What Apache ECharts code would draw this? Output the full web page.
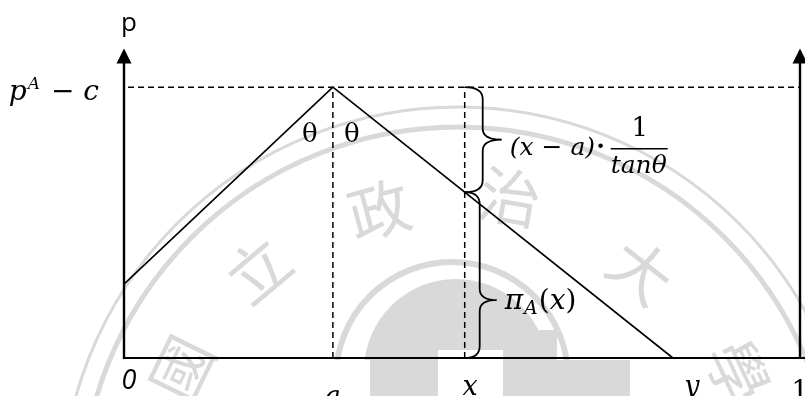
<!DOCTYPE html>
<html>
<head>
<meta charset="utf-8">
<script src="https://cdn.jsdelivr.net/npm/echarts@6/dist/echarts.min.js"></script>
<style>
  html, body { margin: 0; padding: 0; background: #ffffff; }
  #chart { width: 805px; height: 396px; }
</style>
</head>
<body>
<div id="chart"></div>
<script>
// Locations on the unit line and the profit level of firm A
const tickNames = ['0', 'a', 'x', 'y', '1'];
const tickValues = [0, 0.309, 0.504, 0.812, 1];
const levelNames = ['pA-c'];
const levelValues = [1];

// Profit of A along the line: rises to the peak at a, falls to zero at y
const profitLine = [[0, 0.273], [0.309, 1], [0.812, 0]];
// Dashed guides
const peakGuide = [[0.006, 1], [1, 1]];
const guideA = [[0.309, 0], [0.309, 1]];
const guideX = [[0.504, 0], [0.504, 1]];
// Braces at x: [position, lower value, upper value, tip value]
const braceRanges = [[0.504, 0.612, 1, 0.806], [0.504, 0, 0.612, 0.214]];
// Peak where the two angles are marked
const peakPoint = [[0.309, 1]];

const yTop = 1.115;
const xRight = 1.0074;

const MATH = "'DejaVu Serif', serif";
const SEAL = '#d9d9d9';

const chart = echarts.init(document.getElementById('chart'), null, { renderer: 'canvas' });

function quad(p0, c, p1, n, out) {
  for (let i = 1; i <= n; i++) {
    const t = i / n, u = 1 - t;
    out.push([u * u * p0[0] + 2 * u * t * c[0] + t * t * p1[0],
              u * u * p0[1] + 2 * u * t * c[1] + t * t * p1[1]]);
  }
}

function bracePoints(x0, yt, yb, ym, s, t) {
  const r = 12, m = 11;
  const xs = x0 + s, xt = x0 + t;
  const pts = [[x0, yt]];
  quad([x0, yt], [xs, yt], [xs, yt + r], 8, pts);
  pts.push([xs, ym - m]);
  quad([xs, ym - m], [xs, ym], [xt, ym], 8, pts);
  quad([xt, ym], [xs, ym], [xs, ym + m], 8, pts);
  pts.push([xs, yb - r]);
  quad([xs, yb - r], [xs, yb], [x0, yb], 8, pts);
  return pts;
}

function txt(x, y, text, font, align, extra) {
  return {
    type: 'text',
    x: x, y: y,
    style: Object.assign({
      text: text, font: font, fill: '#000',
      align: align || 'center', textAlign: align || 'center',
      verticalAlign: 'middle', textVerticalAlign: 'middle'
    }, extra || {})
  };
}

// Faint university seal behind the diagram
const sealChars = [
  { ch: '國', x: 182, y: 368, a: -64 },
  { ch: '立', x: 258, y: 270, a: -40 },
  { ch: '政', x: 379, y: 210, a: -15 },
  { ch: '治', x: 510, y: 197, a: 10 },
  { ch: '大', x: 641, y: 271, a: 38 },
  { ch: '學', x: 738, y: 372, a: 65 }
];
const graphicEls = [
  { type: 'circle', z: -10, silent: true, shape: { cx: 458, cy: 504, r: 397 }, style: { fill: 'none', stroke: SEAL, lineWidth: 3 } },
  { type: 'circle', z: -10, silent: true, shape: { cx: 458, cy: 504, r: 377 }, style: { fill: 'none', stroke: SEAL, lineWidth: 5 } },
  { type: 'circle', z: -10, silent: true, shape: { cx: 456, cy: 371, r: 92 }, style: { fill: SEAL } },
  { type: 'circle', z: -10, silent: true, shape: { cx: 452, cy: 378, r: 116 }, style: { fill: 'none', stroke: SEAL, lineWidth: 6 } },
  { type: 'rect', z: -10, silent: true, shape: { x: 490, y: 330, width: 67, height: 30 }, style: { fill: SEAL } },
  { type: 'rect', z: -10, silent: true, shape: { x: 503, y: 360, width: 127, height: 36 }, style: { fill: SEAL } },
  // white text boxes under the axis labels
  { type: 'rect', z: -9, silent: true, shape: { x: 303, y: 360, width: 67, height: 36 }, style: { fill: '#fff' } },
  { type: 'rect', z: -9, silent: true, shape: { x: 438, y: 350, width: 65, height: 46 }, style: { fill: '#fff' } }
];
sealChars.forEach(c => {
  graphicEls.push({
    type: 'text', z: -10, silent: true,
    x: c.x, y: c.y, rotation: -c.a * Math.PI / 180,
    style: {
      text: c.ch, font: "62px 'Noto Sans CJK TC'", fill: SEAL,
      align: 'center', textAlign: 'center', verticalAlign: 'middle', textVerticalAlign: 'middle'
    }
  });
});

const option = {
  animation: false,
  backgroundColor: '#ffffff',
  graphic: { elements: graphicEls },
  grid: { left: 124, right: 0, top: 56, bottom: 38, containLabel: false, outerBoundsMode: 'none' },
  xAxis: {
    type: 'value', min: 0, max: xRight,
    axisLine: { show: true, onZero: false, lineStyle: { color: '#000', width: 2.2 } },
    axisTick: { show: false },
    splitLine: { show: false },
    axisLabel: {
      customValues: tickValues,
      margin: 10,
      showMinLabel: true, showMaxLabel: true,
      formatter: v => {
        const i = tickValues.indexOf(v);
        return '{t' + i + '|' + tickNames[i] + '}';
      },
      rich: {
        t0: { fontFamily: "'Open Sans', sans-serif", fontStyle: 'italic', fontSize: 27, color: '#000', padding: [0, 0, 0, 10] },
        t1: { fontFamily: MATH, fontStyle: 'italic', fontSize: 27, color: '#000', padding: [16, 0, 0, 0] },
        t2: { fontFamily: MATH, fontStyle: 'italic', fontSize: 27, color: '#000', padding: [6, 0, 0, 11] },
        t3: { fontFamily: MATH, fontStyle: 'italic', fontSize: 27, color: '#000', padding: [6, 0, 0, 38] },
        t4: { fontFamily: MATH, fontSize: 27, color: '#000', padding: [11, 0, 0, 0] }
      }
    }
  },
  yAxis: {
    type: 'value', min: 0, max: yTop,
    name: 'p', nameLocation: 'end', nameGap: 19,
    nameTextStyle: { fontFamily: "'Open Sans', sans-serif", fontSize: 26, color: '#000', padding: [0, 0, 0, 10] },
    axisLine: { show: true, onZero: false, symbol: ['none', 'triangle'], symbolSize: [15, 15], lineStyle: { color: '#000', width: 2.4 } },
    axisTick: { show: false },
    splitLine: { show: false },
    axisLabel: {
      customValues: levelValues,
      margin: 25,
      padding: [12, 0, 0, 0],
      formatter: () => '{p|p}{s|A}{p| − c}',
      rich: {
        p: { fontFamily: MATH, fontStyle: 'italic', fontSize: 28, color: '#000', lineHeight: 34 },
        s: { fontFamily: MATH, fontStyle: 'italic', fontSize: 17, color: '#000', padding: [0, 2, 18, 1] }
      }
    }
  },
  series: [
    {
      name: 'profit', type: 'line', data: profitLine, symbol: 'none', clip: false, silent: true,
      lineStyle: { color: '#000', width: 1.6 },
      markLine: {
        silent: true, symbol: ['none', 'triangle'], symbolSize: 15,
        label: { show: false },
        lineStyle: { color: '#000', width: 2.4, type: 'solid' },
        data: [[{ coord: [1, 0] }, { coord: [1, yTop] }]]
      }
    },
    { name: 'peak level', type: 'line', data: peakGuide, symbol: 'none', silent: true,
      lineStyle: { color: '#000', width: 1.5, type: [6, 4] } },
    { name: 'at a', type: 'line', data: guideA, symbol: 'none', silent: true,
      lineStyle: { color: '#000', width: 1.5, type: [6, 4] } },
    { name: 'at x', type: 'line', data: guideX, symbol: 'none', silent: true,
      lineStyle: { color: '#000', width: 1.5, type: [6, 4] } },
    {
      name: 'braces', type: 'custom', data: braceRanges, silent: true, clip: false,
      renderItem: (params, api) => {
        const x = api.value(0), lo = api.value(1), hi = api.value(2), tip = api.value(3);
        const top = api.coord([x, hi]), bot = api.coord([x, lo]), mid = api.coord([x, tip]);
        const upper = params.dataIndex === 0;
        const s = upper ? 18 : 15, t = upper ? 37 : 32;
        const children = [{
          type: 'polyline',
          shape: { points: bracePoints(top[0], top[1], bot[1], mid[1], s, t) },
          style: { stroke: '#000', lineWidth: 1.8, fill: 'none' }
        }];
        const tx = top[0] + t, ty = mid[1];
        if (upper) {
          children.push(txt(tx + 8, ty + 9, '(x − a)', 'italic 25px ' + MATH, 'left'));
          children.push(txt(tx + 99, ty + 8, '·', 'bold 25px ' + MATH, 'center'));
          children.push({ type: 'line', shape: { x1: tx + 109, y1: ty + 9, x2: tx + 166, y2: ty + 9 }, style: { stroke: '#000', lineWidth: 1.6 } });
          children.push(txt(tx + 138, ty - 10, '1', '26px ' + MATH, 'center'));
          children.push(txt(tx + 137, ty + 27, 'tanθ', 'italic 25px ' + MATH, 'center'));
        } else {
          children.push({
            type: 'text', x: tx + 8, y: ty + 2,
            style: {
              text: '{i|π}{b|A}{r|(}{i|x}{r|)}',
              align: 'left', textAlign: 'left', verticalAlign: 'middle', textVerticalAlign: 'middle',
              rich: {
                i: { fontFamily: MATH, fontStyle: 'italic', fontSize: 28, fill: '#000', lineHeight: 34 },
                r: { fontFamily: MATH, fontSize: 28, fill: '#000', lineHeight: 34 },
                b: { fontFamily: MATH, fontStyle: 'italic', fontSize: 19, fill: '#000', padding: [14, 1, 0, 1] }
              }
            }
          });
        }
        return { type: 'group', children: children };
      }
    },
    {
      name: 'angles', type: 'custom', data: peakPoint, silent: true, clip: false,
      renderItem: (params, api) => {
        const p = api.coord([api.value(0), api.value(1)]);
        return {
          type: 'group',
          children: [
            txt(p[0] - 23, p[1] + 48, 'θ', '26px ' + MATH, 'center'),
            txt(p[0] + 19, p[1] + 48, 'θ', '26px ' + MATH, 'center')
          ]
        };
      }
    }
  ]
};

chart.setOption(option);
</script>
</body>
</html>
